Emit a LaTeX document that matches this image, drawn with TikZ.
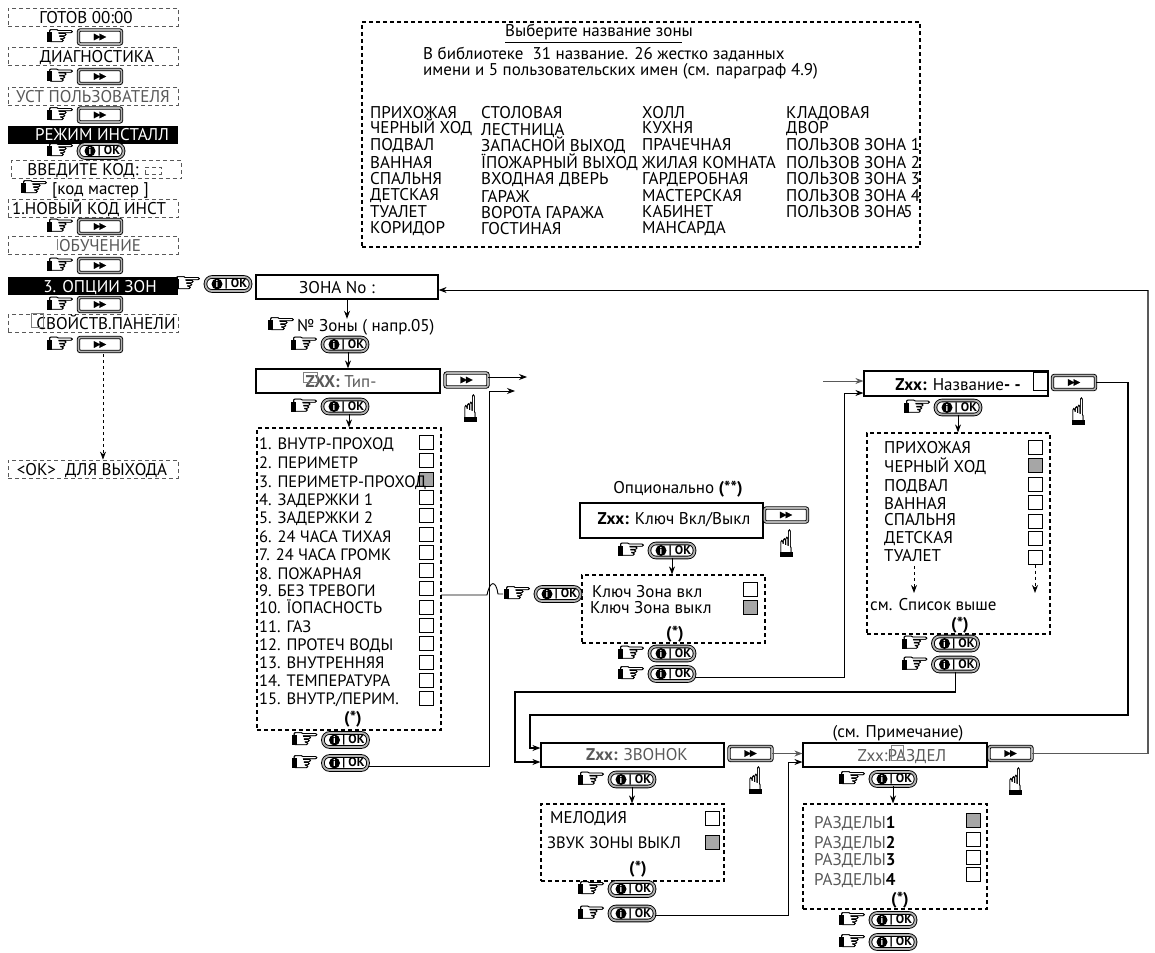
\documentclass[tikz,border=0pt]{standalone}
\usepackage{fontspec}
\setmainfont{PT Sans}
\newfontfamily\symfont[FakeBold=1.2]{DejaVu Sans}
\usetikzlibrary{arrows.meta}
\definecolor{softgray}{gray}{0.35}
\definecolor{tickgray}{gray}{0.65}
\tikzset{
  basetext/.style={inner sep=0pt,text height=12pt,text depth=0pt,font=\fontsize{17}{19}\selectfont},
  rowtext/.style={basetext,anchor=west},
  narrowrow/.style={rowtext,font=\fontsize{16.5}{18}\selectfont},
  menubox/.style={draw=softgray,line width=.8pt,dash pattern=on 4pt off 3pt,minimum width=170pt,minimum height=18pt,inner sep=0pt},
  menubar/.style={fill=black,minimum width=170pt,minimum height=18pt,inner sep=0pt},
  stepbox/.style={draw,line width=1.2pt,inner sep=0pt},
  listbox/.style={draw,line width=1.2pt,dash pattern=on 4pt off 3pt,inner sep=0pt},
  tickbox/.style={draw,line width=1pt,fill=white,minimum size=14pt,inner sep=0pt},
  tickset/.style={tickbox,fill=tickgray},
  ghostbox/.style={draw=gray,line width=.5pt},
  okbox/.style={draw,line width=.9pt,double=gray!60,double distance=1.8pt,fill=white,rounded corners=6.5pt,minimum width=45pt,minimum height=14pt,inner sep=0pt},
  fwdbox/.style={draw,line width=.9pt,double=gray!60,double distance=1.6pt,fill=white,rounded corners=2pt,minimum width=43pt,minimum height=14pt,inner sep=0pt},
  fingermark/.style={inner sep=0pt,xscale=1.2,transform shape,font=\symfont\fontsize{27}{27}\selectfont},
  upfinger/.style={inner sep=0pt,yscale=1.4,xscale=.85,transform shape,font=\symfont\fontsize{27}{27}\selectfont},
  infomark/.style={circle,fill=black,text=white,inner sep=0pt,minimum size=11pt,font=\bfseries\fontsize{10}{10}\selectfont},
  oklabel/.style={inner sep=0pt,font=\bfseries\fontsize{12.5}{12.5}\selectfont},
  fwdmark/.style={inner sep=0pt,font=\symfont\fontsize{8.5}{8.5}\selectfont},
  lineto/.style={line width=.9pt},
  graylineto/.style={line width=1.4pt,draw=black!65},
}
\newcommand{\okkey}[3]{%
  \node[fingermark] (#1h) at (#2-40,#3) {☞};
  \fill (#2-54,#3-5) rectangle (#2-49,#3+5);
  \node[okbox] (#1) at (#2,#3) {};
  \node[infomark] (#1i) at (#2-11,#3) {i};
  \node[oklabel] (#1t) at (#2+8,#3) {| OK};
}
\newcommand{\fwdkey}[3]{%
  \node[fwdbox] (#1) at (#2,#3) {};
  \node[fwdmark] (#1t) at (#2,#3) {▶\kern-1pt▶};
}
\newcommand{\handkey}[3]{%
  \fwdkey{#1}{#2}{#3}
  \node[fingermark] (#1h) at (#2-39,#3) {☞};
  \fill (#2-53,#3-5) rectangle (#2-48,#3+5);
}
\newcommand{\uphand}[3]{%
  \node[upfinger] (#1) at (#2,#3) {☝};
  \fill (#2-6,#3+9) rectangle (#2+7,#3+14);
}
\newcommand{\menuitem}[6]{%
  \node[#2] (#1) at (93,#4) {};
  \node[basetext,text=#3] (#1t) at (#5,#4) {#6};
}
\begin{document}
\begin{tikzpicture}[x=1pt,y=-1pt,>={Stealth[length=8pt,width=6pt]}]
  \useasboundingbox (0,0) rectangle (1155,952);

  % menu column
  \menuitem{ready}{menubox}{black}{17.5}{86}{ГОТОВ 00:00}
  \handkey{kreadyb}{100}{37}
  \menuitem{diag}{menubox}{black}{56.5}{97}{ДИАГНОСТИКА}
  \handkey{kdiag}{100}{76.5}
  \menuitem{usr}{menubox}{softgray}{96.5}{93}{УСТ ПОЛЬЗОВАТЕЛЯ}
  \handkey{kusr}{100}{115}
  \menuitem{inst}{menubar}{white}{135}{102}{РЕЖИМ ИНСТАЛЛ}
  \okkey{kinst}{101}{151}
  \node[menubox] (code) at (96.5,169.5) {};
  \node[basetext] (codet) at (83,169.5) {ВВЕДИТЕ КОД:};
  \node[menubox,minimum width=16pt,minimum height=7pt] (codedash) at (153,170.5) {};
  \node[fingermark] (codeh) at (35,188) {☞};
  \fill (21,183) rectangle (26,193);
  \node[rowtext] (codem) at (52,188) {[код мастер ]};
  \menuitem{newc}{menubox}{black}{208.5}{89}{1.НОВЫЙ КОД ИНСТ}
  \handkey{knewc}{100}{226.5}
  \menuitem{learn}{menubox}{softgray}{245}{100}{ОБУЧЕНИЕ}
  \draw[ghostbox] (57,239) -- (57,250);
  \handkey{klearn}{100}{265.5}
  \menuitem{zones}{menubar}{white}{286}{100}{3. ОПЦИИ ЗОН}
  \handkey{kzones}{100}{304.5}
  \menuitem{panel}{menubox}{black}{323.5}{106}{СВОЙСТВ.ПАНЕЛИ}
  \draw[ghostbox] (31,313) rectangle (43,327);
  \handkey{kpanel}{100}{344.5}
  \menuitem{quit}{menubox}{black}{469}{92}{<OK>~ ДЛЯ ВЫХОДА}
  \coordinate (quitfrom) at (103,354);
  \draw[lineto,dashed,->] (quitfrom) -- (quitfrom |- quit.north);

  % library of names
  \node[listbox,minimum width=558pt,minimum height=225pt] (lib) at (641,134.5) {};
  \node[rowtext] (libtitle) at (505,31) {\underline{Выберите название зон}ы};
  \node[rowtext] (libone) at (423,54) {В библиотеке~ 31 название. 26 жестко заданных};
  \node[rowtext] (libtwo) at (423,70) {имени и 5 пользовательских имен (см. параграф 4.9)};
  \foreach \y/\t [count=\n] in {113/ПРИХОЖАЯ,128/ЧЕРНЫЙ ХОД,145/ПОДВАЛ,162/ВАННАЯ,178/СПАЛЬНЯ,194/ДЕТСКАЯ,211/ТУАЛЕТ,227/КОРИДОР}
    \node[rowtext] (liba\n) at (370,\y) {\t};
  \foreach \y/\t [count=\n] in {113/СТОЛОВАЯ,130/ЛЕСТНИЦА,146/ЗАПАСНОЙ ВЫХОД,162/ЇПОЖАРНЫЙ ВЫХОД,179/ВХОДНАЯ ДВЕРЬ,196/ГАРАЖ,212/ВОРОТА ГАРАЖА,228/ГОСТИНАЯ}
    \node[rowtext] (libb\n) at (481,\y) {\t};
  \foreach \y/\t [count=\n] in {113/ХОЛЛ,128/КУХНЯ,145/ПРАЧЕЧНАЯ,162/ЖИЛАЯ КОМНАТА,178/ГАРДЕРОБНАЯ,195/МАСТЕРСКАЯ,211/КАБИНЕТ,227/МАНСАРДА}
    \node[rowtext] (libc\n) at (642,\y) {\t};
  \foreach \y/\t [count=\n] in {113/КЛАДОВАЯ,128/ДВОР,145/ПОЛЬЗОВ ЗОНА 1,162/ПОЛЬЗОВ ЗОНА 2,178/ПОЛЬЗОВ ЗОНА 3,195/ПОЛЬЗОВ ЗОНА 4,211/ПОЛЬЗОВ ЗОНА\kern-3pt 5}
    \node[rowtext] (libd\n) at (786,\y) {\t};

  % zone number and type
  \okkey{kzonesb}{228}{284}
  \node[stepbox,minimum width=182pt,minimum height=24pt] (zone) at (347,287) {};
  \node[basetext] (zonet) at (337,287) {ЗОНА No :};
  \node[fingermark] (zonenumh) at (282,325) {☞};
  \fill (268,320) rectangle (273,330);
  \node[rowtext] (zonenum) at (297,325) {№ Зоны ( напр.05)};
  \okkey{kzonenum}{345}{344.5}
  \node[stepbox,minimum width=184pt,minimum height=24pt] (type) at (348,381) {};
  \node[basetext,text=softgray] (typet) at (341,381) {\textbf{ZXX:} Тип-};
  \draw[ghostbox] (303,372) rectangle (317,382);
  \fwdkey{ktype}{466.5}{380}
  \uphand{ktypeh}{470}{408}
  \okkey{ktypeok}{345}{406.5}
  \node[listbox,minimum width=184pt,minimum height=302pt] (types) at (349,579) {};
  \foreach \y [count=\n] in {442.5,460.8,497.4,515.7,534,552.3,570.6,588.9,607.2,625.5,643.8,662.1,680.4,698.7}
    \node[tickbox] (typetick\n) at (426,\y) {};
  \node[tickset] (typeset) at (426,479) {};
  \foreach \y/\t [count=\n] in {443/1. ВНУТР-ПРОХОД,462/2. ПЕРИМЕТР,481/3. ПЕРИМЕТР-ПРОХОД,499/4. ЗАДЕРЖКИ 1,517/5. ЗАДЕРЖКИ 2,536/6. 24 ЧАСА ТИХАЯ,554/7. 24 ЧАСА ГРОМК,573/8. ПОЖАРНАЯ,590/9. БЕЗ ТРЕВОГИ,607/10. ЇОПАСНОСТЬ,626/11. ГАЗ,644/12. ПРОТЕЧ ВОДЫ,662/13. ВНУТРЕННЯЯ,680/14. ТЕМПЕРАТУРА,698/{15. ВНУТР./ПЕРИМ.}}
    \node[narrowrow] (typerow\n) at (259,\y) {\t};
  \node[basetext] (typestar) at (353,717) {\textbf{(*)}};
  \okkey{ktypea}{345.5}{740}
  \okkey{ktypeb}{345.5}{763}

  % optional key
  \node[basetext] (optt) at (678,487) {Опционально \textbf{(**)}};
  \node[stepbox,minimum width=183pt,minimum height=35pt] (opt) at (671.5,520.5) {};
  \node[basetext] (optz) at (674,518) {\textbf{Zxx:} Ключ Вкл/Выкл};
  \fwdkey{kopt}{786}{515}
  \uphand{kopth}{786}{543}
  \okkey{koptok}{672}{550.5}
  \node[listbox,minimum width=183pt,minimum height=68pt] (opts) at (673.5,609) {};
  \node[rowtext] (optrowa) at (592,591) {Ключ Зона вкл};
  \node[rowtext] (optrowb) at (590,607) {Ключ Зона выкл};
  \node[tickbox] (opttick) at (750,589) {};
  \node[tickset] (optset) at (750,607) {};
  \node[basetext] (optstar) at (675,632) {\textbf{(*)}};
  \okkey{hopk}{558}{594}
  \okkey{kopta}{672}{653.5}
  \okkey{koptb}{672}{674}

  % zone name
  \node[stepbox,minimum width=184pt,minimum height=25pt] (name) at (956,383.5) {};
  \node[basetext] (namet) at (958,384) {\textbf{Zxx:} Название\textbf{- -}};
  \draw[line width=.9pt] (1033,372) rectangle (1048,390);
  \fwdkey{kname}{1074}{382.5}
  \uphand{knameh}{1078}{411}
  \okkey{knameok}{958}{407.5}
  \node[listbox,minimum width=183pt,minimum height=201pt] (names) at (958.5,533.5) {};
  \foreach \y/\t [count=\n] in {447/ПРИХОЖАЯ,466/ЧЕРНЫЙ ХОД,485/ПОДВАЛ,503/ВАННАЯ,519/СПАЛЬНЯ,537/ДЕТСКАЯ,555/ТУАЛЕТ}
    \node[rowtext] (namerow\n) at (884,\y) {\t};
  \foreach \y/\s [count=\n] in {447/tickbox,465/tickset,484/tickbox,502/tickbox,521/tickbox,538/tickbox,557/tickbox}
    \node[\s] (nametick\n) at (1035,\y) {};
  \node[rowtext] (namesee) at (870,604) {см. Список выше};
  \node[basetext] (namestar) at (960,623) {\textbf{(*)}};
  \okkey{knamea}{955.5}{643.5}
  \okkey{knameb}{955.5}{664.5}

  % chime
  \node[stepbox,minimum width=183pt,minimum height=24pt] (bell) at (632.5,755) {};
  \node[basetext,text=softgray] (bellt) at (637,754) {\textbf{Zxx:} ЗВОНОК};
  \fwdkey{kbell}{750.5}{753.5}
  \uphand{kbellh}{755}{780}
  \okkey{kbellok}{632}{779.5}
  \node[listbox,minimum width=183pt,minimum height=77pt] (bells) at (632.5,842.5) {};
  \node[rowtext] (bellrowa) at (550,817) {МЕЛОДИЯ};
  \node[narrowrow] (bellrowb) at (547,842) {ЗВУК ЗОНЫ ВЫКЛ};
  \node[tickbox] (belltick) at (712,818) {};
  \node[tickset] (bellset) at (712,842) {};
  \node[basetext] (bellstar) at (638,867) {\textbf{(*)}};
  \okkey{kbella}{632}{889}
  \okkey{kbellb}{632}{913.5}

  % partition
  \node[basetext] (partnote) at (898,731) {(см. Примечание)};
  \node[stepbox,minimum width=184pt,minimum height=24pt] (part) at (895,755) {};
  \node[basetext,text=softgray] (partt) at (902,755) {Zxx:РАЗДЕЛ};
  \draw[ghostbox] (891,745) rectangle (903,760);
  \fwdkey{kpart}{1010.5}{753.5}
  \uphand{kparth}{1015}{781}
  \okkey{kpartok}{893}{779}
  \node[listbox,minimum width=184pt,minimum height=105pt] (parts) at (895,856.5) {};
  \foreach \y/\d [count=\n] in {822/1,842/2,859/3,879/4}
    \node[rowtext,text=softgray] (partrow\n) at (814,\y) {РАЗДЕЛЫ\textcolor{black}{\textbf{\d}}};
  \node[tickset] (partset) at (973,820) {};
  \foreach \y [count=\n] in {839,857,874}
    \node[tickbox] (parttick\n) at (973,\y) {};
  \node[basetext] (partstar) at (900,898) {\textbf{(*)}};
  \okkey{kparta}{893}{920}
  \okkey{kpartb}{893}{942}

  % connectors
  \draw[lineto,->] (zone.south) -- (zone.south |- zonenum.north);
  \draw[lineto,->] (type.north |- kzonenum.south) -- (type.north);
  \draw[lineto,->] (types.north |- ktypeok.south) -- (types.north);
  \coordinate (typeout) at (527,377);
  \draw[lineto,->] (ktype.east |- typeout) -- (typeout);
  \coordinate (typeturn) at (489,391);
  \coordinate (typeback) at (515,391);
  \draw[lineto,->] ([yshift=-3pt]ktypeb.east) -| (typeturn) -- (typeback);
  \coordinate (hopfrom) at (441,595);
  \draw[lineto] (hopfrom) -- (487,595) .. controls (490,580) and (496,580) .. (498,594) -- (hopkh.west);
  \draw[lineto,->] (koptok.south) -- (koptok.south |- opts.north);
  \coordinate (nameturn) at (844,393);
  \draw[lineto,->] ([yshift=-3pt]koptb.east) -| (nameturn) -- (nameturn -| name.west);
  \coordinate (namein) at (823,381);
  \draw[graylineto,line width=1pt,->] (namein) -- (namein -| name.west);
  \draw[lineto,->] (knameok.south) -- (knameok.south |- names.north);
  \coordinate (moredown) at (914,566);
  \coordinate (tickdown) at (1035,593);
  \draw[lineto,dashed,->] (moredown) -- (moredown |- tickdown);
  \draw[lineto,dashed,->] (nametick7.south) -- (tickdown);
  \coordinate (outerturn) at (1128,715);
  \coordinate (bellin) at (530,748);
  \draw[lineto,line width=1.1pt,->] (kname.east) -| (outerturn) -| (bellin) -- (bellin -| bell.west);
  \coordinate (innerturn) at (515,692);
  \coordinate (bellback) at (515,762);
  \draw[lineto,line width=1.1pt,->] (knameb.south) |- (innerturn) -- (bellback) -- (bellback -| bell.west);
  \draw[graylineto,line width=1pt,->] (kbell.east) -- (kbell.east -| part.west);
  \coordinate (partturn) at (788,762);
  \draw[lineto,->] ([yshift=-1.5pt]kbellb.east) -| (partturn) -- (partturn -| part.west);
  \draw[lineto,->] (kbellok.south) -- (kbellok.south |- bells.north);
  \draw[lineto,->] (kpartok.south) -- (kpartok.south |- parts.north);
  \coordinate (topturn) at (1148,290);
  \draw[graylineto] (kpart.east) -| (topturn);
  \draw[lineto,->] (topturn) -- (topturn -| zone.east);
\end{tikzpicture}
\end{document}
